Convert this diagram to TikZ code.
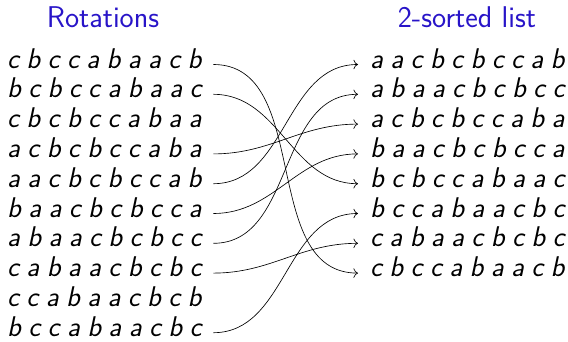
\documentclass[tikz,border=0pt]{standalone}
\usepackage{fontspec}
\usetikzlibrary{arrows.meta}
\definecolor{headblue}{RGB}{40,20,200}
\begin{document}
\begin{tikzpicture}[x=1pt,y=-1pt,
  head/.style={anchor=base, inner sep=0pt, text=headblue,
    font=\sffamily\fontsize{30}{34}\selectfont},
  word/.style={text height=0.7em, text depth=0pt,
    font=\sffamily\itshape\fontsize{28.5}{30}\selectfont,
    execute at begin node={\spaceskip=0.26em\relax}},
  rot/.style={word, anchor=base west, inner ysep=0pt, inner xsep=0pt,
    text width=206pt, align=left},
  srt/.style={word, anchor=base west, inner ysep=0pt, inner xsep=12pt},
  link/.style={-{To[scale=1.5]}, line width=0.65pt, out=0, in=180}]
\useasboundingbox (0,0) rectangle (568,341);

% column headings
\node[head] (hrot) at (103,27) {Rotations};
\node[head] (hsrt) at (467,27) {2-sorted list};

% rotations of the word
\node[rot] (l1)  at (7,68.0)  {c b c c a b a a c b};
\node[rot] (l2)  at (7,97.8)  {b c b c c a b a a c};
\node[rot] (l3)  at (7,127.6) {c b c b c c a b a a};
\node[rot] (l4)  at (7,157.4) {a c b c b c c a b a};
\node[rot] (l5)  at (7,187.2) {a a c b c b c c a b};
\node[rot] (l6)  at (7,217.0) {b a a c b c b c c a};
\node[rot] (l7)  at (7,246.8) {a b a a c b c b c c};
\node[rot] (l8)  at (7,276.6) {c a b a a c b c b c};
\node[rot] (l9)  at (7,306.4) {c c a b a a c b c b};
\node[rot] (l10) at (7,336.2) {b c c a b a a c b c};

% sorted list
\node[srt] (r1) at (358,68.0)  {a a c b c b c c a b};
\node[srt] (r2) at (358,97.8)  {a b a a c b c b c c};
\node[srt] (r3) at (358,127.6) {a c b c b c c a b a};
\node[srt] (r4) at (358,157.4) {b a a c b c b c c a};
\node[srt] (r5) at (358,187.2) {b c b c c a b a a c};
\node[srt] (r6) at (358,217.0) {b c c a b a a c b c};
\node[srt] (r7) at (358,246.8) {c a b a a c b c b c};
\node[srt] (r8) at (358,276.6) {c b c c a b a a c b};

% each rotation goes to its place in the sorted list
\draw[link] (l1.east)  to (r8.west);
\draw[link] (l2.east)  to (r5.west);
\draw[link] (l4.east)  to (r3.west);
\draw[link] (l5.east)  to (r1.west);
\draw[link] (l6.east)  to (r4.west);
\draw[link] (l7.east)  to (r2.west);
\draw[link] (l8.east)  to (r7.west);
\draw[link] (l10.east) to (r6.west);
\end{tikzpicture}
\end{document}
